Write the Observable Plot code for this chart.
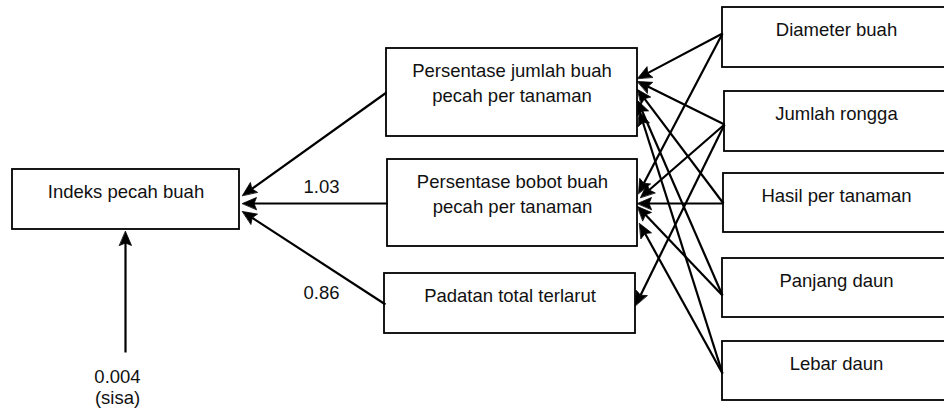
<!DOCTYPE html>
<html>
<head>
<meta charset="utf-8">
<script src="https://cdn.jsdelivr.net/npm/d3@7"></script>
<script src="https://cdn.jsdelivr.net/npm/@observablehq/plot@0.6"></script>
<style>
  html, body { margin: 0; padding: 0; background: #fff; }
  #chart svg { display: block; }
</style>
</head>
<body>
<div id="chart"></div>
<script>
// ---- Data: variables of the path diagram ----
const dependent = ["Indeks pecah buah"];
const intermediates = [
  "Persentase jumlah buah\npecah per tanaman",
  "Persentase bobot buah\npecah per tanaman",
  "Padatan total terlarut"
];
const predictors = ["Diameter buah", "Jumlah rongga", "Hasil per tanaman", "Panjang daun", "Lebar daun"];

// Paths (from -> to)
const pathFrom = [
  "Persentase jumlah buah\npecah per tanaman",
  "Persentase bobot buah\npecah per tanaman",
  "Padatan total terlarut",
  "Diameter buah", "Diameter buah",
  "Jumlah rongga", "Jumlah rongga", "Jumlah rongga",
  "Hasil per tanaman", "Hasil per tanaman",
  "Panjang daun", "Panjang daun",
  "Lebar daun", "Lebar daun"
];
const pathTo = [
  "Indeks pecah buah", "Indeks pecah buah", "Indeks pecah buah",
  "Persentase jumlah buah\npecah per tanaman", "Persentase bobot buah\npecah per tanaman",
  "Persentase jumlah buah\npecah per tanaman", "Persentase bobot buah\npecah per tanaman", "Padatan total terlarut",
  "Persentase jumlah buah\npecah per tanaman", "Persentase bobot buah\npecah per tanaman",
  "Persentase jumlah buah\npecah per tanaman", "Persentase bobot buah\npecah per tanaman",
  "Persentase jumlah buah\npecah per tanaman", "Persentase bobot buah\npecah per tanaman"
];
const pathCoefficients = ["", "1.03", "0.86", "", "", "", "", "", "", "", "", "", "", ""];
const residualLabel = "0.004\n(sisa)";

// ---- Layout (pixel space of the diagram) ----
const boxLayout = [
  [12, 239, 169, 229],
  [386, 637, 48, 136],
  [387, 637, 159, 246],
  [384, 635, 273, 333],
  [722, 950, 7, 67],
  [724, 950, 91, 151],
  [723, 950, 173, 232],
  [722, 950, 258, 317],
  [722, 950, 341, 400]
];
// source port (x,y) and arrow tip (x,y) for each path
const pathPorts = [
  [386, 92, 242, 195],
  [387, 203, 242, 203],
  [385, 304, 242, 211],
  [722, 33, 637, 78],
  [722, 33, 638, 193],
  [724, 124, 637, 81],
  [724, 124, 640, 197],
  [724, 124, 635, 305],
  [723, 203, 637, 89],
  [723, 203, 637, 203],
  [722, 295, 637, 100],
  [722, 295, 637, 206],
  [722, 373, 639, 111],
  [722, 373, 639, 223]
];
const coefPos = [null, [321, 186], [321, 292]];
const residualPort = [125, 352, 125, 231];
const residualTextPos = [117, 386];

const fontSize = 18.5;
const midShift = 0.32 * fontSize;

// ---- Build tables ----
const allNodes = [...dependent, ...intermediates, ...predictors];
const boxes = allNodes.map((name, i) => {
  const [x1, x2, y1, y2] = boxLayout[i];
  return {name, x1, x2, y1, y2};
});
const boxText = boxes.flatMap(b => {
  const lines = b.name.split("\n");
  const cx = b.x2 === 950 ? 836 : (b.x1 + b.x2) / 2;
  return lines.map((t, k) => ({t, x: cx, y: b.y1 + 28.5 + k * 25 - midShift}));
});

const L = 14, HW = 6, N = 2.5;
const edges = pathFrom.map((f, i) => {
  const [sx, sy, tx, ty] = pathPorts[i];
  return {id: i, from: f, to: pathTo[i], sx, sy, tx, ty, coef: pathCoefficients[i]};
});
edges.push({id: "res", from: "sisa", to: dependent[0],
  sx: residualPort[0], sy: residualPort[1], tx: residualPort[2], ty: residualPort[3]});

const shafts = [];
const heads = [];
for (const e of edges) {
  const dx = e.tx - e.sx, dy = e.ty - e.sy;
  const len = Math.hypot(dx, dy);
  const ux = dx / len, uy = dy / len;
  const vx = -uy, vy = ux;
  const nx = e.tx - (L - N) * ux, ny = e.ty - (L - N) * uy;
  shafts.push({x1: e.sx, y1: e.sy, x2: nx, y2: ny});
  const bx = e.tx - L * ux, by = e.ty - L * uy;
  heads.push({id: e.id, x: e.tx, y: e.ty});
  heads.push({id: e.id, x: bx + HW * vx, y: by + HW * vy});
  heads.push({id: e.id, x: nx, y: ny});
  heads.push({id: e.id, x: bx - HW * vx, y: by - HW * vy});
}

const coefText = pathCoefficients
  .map((c, i) => c ? {t: c, x: coefPos[i][0], y: coefPos[i][1] - midShift + 6} : null)
  .filter(Boolean);
const resText = [{t: residualLabel, x: residualTextPos[0], y: residualTextPos[1]}];

const chart = Plot.plot({
  width: 944,
  height: 412,
  margin: 0,
  x: {type: "identity", axis: null},
  y: {type: "identity", axis: null},
  style: {fontFamily: "'Liberation Sans', Arial, sans-serif", background: "#fff", overflow: "hidden"},
  marks: [
    Plot.rect(boxes, {x1: "x1", x2: "x2", y1: "y1", y2: "y2", fill: "white", stroke: "black", strokeWidth: 1.8}),
    Plot.link(shafts, {x1: "x1", y1: "y1", x2: "x2", y2: "y2", stroke: "black", strokeWidth: 2.2}),
    Plot.line(heads, {x: "x", y: "y", z: "id", fill: "black", stroke: "black", strokeWidth: 0.8, strokeLinejoin: "miter", curve: "linear-closed"}),
    Plot.text(boxText, {x: "x", y: "y", text: "t", fontSize, fill: "#111", textAnchor: "middle"}),
    Plot.text(coefText, {x: "x", y: "y", text: "t", fontSize, fill: "#111", textAnchor: "middle"}),
    Plot.text(resText, {x: "x", y: "y", text: "t", fontSize, lineHeight: 1.17, fill: "#111", textAnchor: "middle"})
  ]
});
document.getElementById("chart").appendChild(chart);
</script>
</body>
</html>
